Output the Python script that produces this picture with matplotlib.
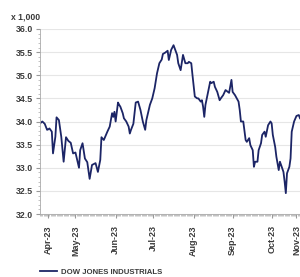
import matplotlib
matplotlib.use("Agg")
import matplotlib.pyplot as plt
import matplotlib.dates as mdates
from matplotlib.ticker import MultipleLocator
import pandas as pd

start_date = "2023-03-27"
day_offsets = [0, 2, 4, 6, 7, 8, 10, 11, 13, 14, 16, 18, 20, 22, 24, 26, 28, 30, 33, 34,
               36, 38, 40, 42, 44, 47, 49, 51, 52, 54, 57, 59, 61, 62, 63, 64, 66, 67, 68, 70,
               71, 73, 75, 76, 77, 79, 81, 83, 85, 87, 89, 90, 93, 95, 97, 99, 101, 103, 104, 106,
               108, 109, 111, 113, 116, 117, 119, 121, 123, 125, 126, 128, 129, 131, 133, 134, 136, 137, 138, 139,
               140, 142, 144, 145, 147, 148, 150, 152, 153, 155, 157, 159, 160, 162, 163, 165, 168, 169, 170, 172,
               174, 175, 177, 178, 180, 181, 182, 184, 185, 187, 188, 190, 191, 193, 195, 196, 197, 199, 200, 202,
               203, 204, 206, 207, 208, 209, 211, 212, 213, 215, 217, 219, 220]
dow_values = [33.96, 34.00, 33.95, 33.82, 33.83, 33.85, 33.78, 33.31, 33.67, 34.09, 34.03, 33.67, 33.13, 33.66, 33.58, 33.54, 33.31, 33.33, 33.00, 33.38,
              33.53, 33.20, 33.12, 32.76, 33.06, 33.10, 32.91, 33.17, 33.66, 33.60, 33.78, 33.89, 34.18, 34.10, 34.21, 34.00, 34.41, 34.36, 34.32, 34.18,
              34.07, 34.00, 33.89, 33.74, 33.82, 33.95, 34.41, 34.43, 34.25, 34.00, 33.82, 34.03, 34.36, 34.50, 34.72, 35.04, 35.26, 35.34, 35.46, 35.49,
              35.53, 35.33, 35.55, 35.65, 35.44, 35.26, 35.11, 35.44, 35.26, 35.26, 35.29, 35.26, 35.01, 34.54, 34.50, 34.50, 34.43, 34.46, 34.32, 34.10,
              34.36, 34.61, 34.86, 34.83, 34.86, 34.75, 34.64, 34.46, 34.50, 34.57, 34.68, 34.64, 34.62, 34.90, 34.64, 34.57, 34.43, 34.25, 34.00, 34.00,
              33.60, 33.56, 33.64, 33.49, 33.38, 33.02, 33.13, 33.13, 33.38, 33.53, 33.71, 33.78, 33.67, 33.92, 34.00, 33.96, 33.71, 33.45, 33.24, 32.95,
              33.13, 33.06, 32.91, 32.70, 32.45, 32.88, 33.02, 33.20, 33.78, 34.00, 34.12, 34.14, 34.07]
tick_offsets = [7, 30, 64, 96, 130, 163, 196, 217]
tick_labels = ["Apr-23", "May-23", "Jun-23", "Jul-23", "Aug-23", "Sep-23", "Oct-23", "Nov-23"]
series_name = "DOW JONES INDUSTRIALS"

t0 = pd.Timestamp(start_date)
dates = [t0 + pd.Timedelta(days=d) for d in day_offsets]
tick_dates = [t0 + pd.Timedelta(days=d) for d in tick_offsets]

plt.rcParams['font.family'] = ['Liberation Sans', 'DejaVu Sans']
text_color = "#3a3a3a"
fig = plt.figure(figsize=(3.0, 2.77), dpi=100)
ax = fig.add_axes([40/300, 1-214/277, 1-40/300, (214-29)/277])

ax.plot(dates, dow_values, color="#1c2566", lw=1.3, label=series_name, solid_joinstyle="round")

ax.set_ylim(32.0, 36.0)
ax.set_xlim(t0, t0 + pd.Timedelta(days=220))
ax.yaxis.set_major_locator(MultipleLocator(0.5))
ax.yaxis.set_minor_locator(MultipleLocator(0.1))
ax.yaxis.set_major_formatter(matplotlib.ticker.FormatStrFormatter("%.1f"))
ax.grid(axis="y", color="#e6e6e6", lw=0.8)
ax.set_axisbelow(True)

ax.set_xticks(tick_dates)
ax.set_xticklabels(tick_labels, rotation=90, fontsize=6.5, fontweight="bold", color=text_color)
ax.xaxis.set_minor_locator(mdates.DayLocator())
ax.tick_params(axis="x", which="major", length=3, color="#999999", pad=5)
ax.tick_params(axis="x", which="minor", length=1.5, color="#aaaaaa", width=0.5)
ax.tick_params(axis="y", which="major", length=3, color="#999999", labelsize=6.3, labelcolor=text_color, pad=2)
ax.tick_params(axis="y", which="minor", length=1.5, color="#aaaaaa", width=0.5)
for lab in ax.get_yticklabels():
    lab.set_fontweight("bold")

for s in ["top", "right"]:
    ax.spines[s].set_visible(False)
for s in ["left", "bottom"]:
    ax.spines[s].set_color("#aaaaaa")
    ax.spines[s].set_linewidth(0.6)

fig.text(11/300, 1-17/277, "x 1,000", fontsize=6.2, fontweight="bold", color=text_color, va="center", ha="left")

leg = fig.legend(loc="center left", bbox_to_anchor=(40/300, 1-272/277), frameon=False,
                 prop={"weight": "bold", "size": 5.6}, handlelength=2.2, handletextpad=0.5,
                 borderpad=0, borderaxespad=0)
for t in leg.get_texts():
    t.set_color(text_color)

fig.savefig("out.png", dpi=100)
